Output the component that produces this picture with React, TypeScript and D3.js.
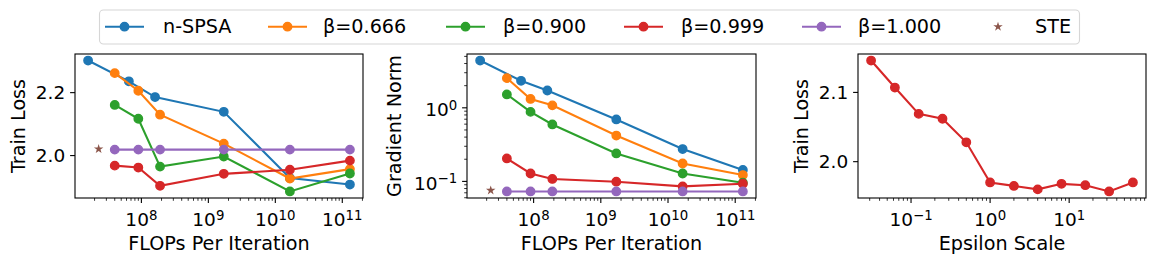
import React from 'react'
import * as d3 from 'd3'

// FLOPs per iteration
const flopsSpsa = [1.6e7, 6.5e7, 1.6e8, 1.7e9, 1.65e10, 1.3e11]
const flopsBeta = [4e7, 9e7, 1.9e8, 1.7e9, 1.65e10, 1.3e11]
const flopsSte = 2.3e7

// train loss
const lossSpsa = [2.302, 2.236, 2.186, 2.139, 1.929, 1.908]
const loss666 = [2.262, 2.206, 2.130, 2.038, 1.927, 1.957]
const loss900 = [2.161, 2.117, 1.965, 1.997, 1.886, 1.943]
const loss999 = [1.968, 1.962, 1.904, 1.942, 1.955, 1.984]
const loss1000 = [2.019, 2.019, 2.019, 2.019, 2.019, 2.019]
const lossSte = 2.021

// gradient norm
const gradSpsa = [4.39, 2.33, 1.72, 0.695, 0.275, 0.143]
const grad666 = [2.53, 1.32, 1.08, 0.42, 0.175, 0.122]
const grad900 = [1.52, 0.88, 0.594, 0.24, 0.128, 0.096]
const grad999 = [0.205, 0.128, 0.108, 0.099, 0.0855, 0.093]
const grad1000 = [0.073, 0.073, 0.073, 0.073, 0.073, 0.073]
const gradSte = 0.0755

// epsilon sweep
const epsScale = [0.03125, 0.0625, 0.125, 0.25, 0.5, 1, 2, 4, 8, 16, 32, 64]
const epsLoss = [2.146, 2.107, 2.069, 2.062, 2.028, 1.970, 1.965, 1.960, 1.968, 1.966, 1.957, 1.970]

const seriesNames = ['n-SPSA', 'β=0.666', 'β=0.900', 'β=0.999', 'β=1.000']
const colors = ['#1f77b4', '#ff7f0e', '#2ca02c', '#d62728', '#9467bd']
const steColor = '#8c564b'

const series = [
  {x: flopsSpsa, loss: lossSpsa, grad: gradSpsa},
  {x: flopsBeta, loss: loss666, grad: grad666},
  {x: flopsBeta, loss: loss900, grad: grad900},
  {x: flopsBeta, loss: loss999, grad: grad999},
  {x: flopsBeta, loss: loss1000, grad: grad1000},
]

const FONT = 'DejaVu Sans'
const TICK_FS = 18.5
const LABEL_FS = 19.2
const TOP = 54
const BOTTOM = 198

const padLog = (vals: number[]) => {
  const a = Math.log10(d3.min(vals)!)
  const b = Math.log10(d3.max(vals)!)
  const m = (b - a) * 0.05
  return [10 ** (a - m), 10 ** (b + m)]
}
const padLin = (vals: number[]) => {
  const a = d3.min(vals)!
  const b = d3.max(vals)!
  const m = (b - a) * 0.05
  return [a - m, b + m]
}

const logTicks = (domain: number[]) => {
  const lo = Math.floor(Math.log10(domain[0]))
  const hi = Math.ceil(Math.log10(domain[1]))
  const major: number[] = []
  const minor: number[] = []
  for (let e = lo; e <= hi; e++) {
    const v = 10 ** e
    if (v >= domain[0] && v <= domain[1]) major.push(e)
    for (let k = 2; k < 10; k++) {
      const mv = k * v
      if (mv >= domain[0] && mv <= domain[1]) minor.push(mv)
    }
  }
  return {major, minor}
}

const Pow = ({e}: {e: number}) => (
  <>
    <tspan>10</tspan>
    <tspan dy={-6.5} fontSize={TICK_FS * 0.72}>{e < 0 ? '−' + Math.abs(e) : e}</tspan>
  </>
)

const Frame = ({x0, x1}: {x0: number, x1: number}) => (
  <rect x={x0} y={TOP} width={x1 - x0} height={BOTTOM - TOP} fill="none" stroke="#000" strokeWidth={1.1}/>
)

const LogXAxis = ({scale}: {scale: any}) => {
  const {major, minor} = logTicks(scale.domain())
  return (
    <g>
      {minor.map((v, i) => (
        <line key={'m' + i} x1={scale(v)} x2={scale(v)} y1={BOTTOM} y2={BOTTOM + 2.8} stroke="#000" strokeWidth={0.8}/>
      ))}
      {major.map(e => (
        <g key={e}>
          <line x1={scale(10 ** e)} x2={scale(10 ** e)} y1={BOTTOM} y2={BOTTOM + 4.9} stroke="#000" strokeWidth={1.1}/>
          <text x={scale(10 ** e)} y={226} textAnchor="middle" fontSize={TICK_FS} fontFamily={FONT}>
            <Pow e={e}/>
          </text>
        </g>
      ))}
    </g>
  )
}

const LinYAxis = ({scale, x0, ticks}: {scale: any, x0: number, ticks: number[]}) => (
  <g>
    {ticks.map(t => (
      <g key={t}>
        <line x1={x0 - 4.9} x2={x0} y1={scale(t)} y2={scale(t)} stroke="#000" strokeWidth={1.1}/>
        <text x={x0 - 9.8} y={scale(t)} dy="0.36em" textAnchor="end" fontSize={TICK_FS} fontFamily={FONT}>
          {t.toFixed(1)}
        </text>
      </g>
    ))}
  </g>
)

const LogYAxis = ({scale, x0}: {scale: any, x0: number}) => {
  const {major, minor} = logTicks(scale.domain())
  return (
    <g>
      {minor.map((v, i) => (
        <line key={'m' + i} x1={x0 - 2.8} x2={x0} y1={scale(v)} y2={scale(v)} stroke="#000" strokeWidth={0.8}/>
      ))}
      {major.map(e => (
        <g key={e}>
          <line x1={x0 - 4.9} x2={x0} y1={scale(10 ** e)} y2={scale(10 ** e)} stroke="#000" strokeWidth={1.1}/>
          <text x={x0 - 9.8} y={scale(10 ** e) + 8.5} textAnchor="end" fontSize={TICK_FS} fontFamily={FONT}>
            <Pow e={e}/>
          </text>
        </g>
      ))}
    </g>
  )
}

const XLabel = ({x0, x1, text}: {x0: number, x1: number, text: string}) => (
  <text x={(x0 + x1) / 2} y={249.5} textAnchor="middle" fontSize={LABEL_FS} fontFamily={FONT}>{text}</text>
)
const YLabel = ({x, text}: {x: number, text: string}) => (
  <text transform={`translate(${x},${(TOP + BOTTOM) / 2}) rotate(-90)`} textAnchor="middle" fontSize={LABEL_FS} fontFamily={FONT}>{text}</text>
)

const starPath = d3.symbol().type(d3.symbolStar).size(28)()
const Star = ({x, y}: {x: number, y: number}) => (
  <path d={starPath!} transform={`translate(${x},${y})`} fill={steColor}/>
)

const LineMarks = ({xs, ys, xScale, yScale, color}: any) => {
  const line = d3.line<number>().x((_, i) => xScale(xs[i])).y(d => yScale(d))
  return (
    <g>
      <path d={line(ys)!} fill="none" stroke={color} strokeWidth={2.1}/>
      {ys.map((d: number, i: number) => (
        <circle key={i} cx={xScale(xs[i])} cy={yScale(d)} r={4.2} fill={color} stroke={color} strokeWidth={1.4}/>
      ))}
    </g>
  )
}

const Legend = () => {
  const lineX = [105, 268, 446, 624, 802]
  const textX = [163, 323, 503, 681, 858]
  const yMid = 26.7
  return (
    <g>
      <rect x={99.5} y={10} width={980} height={34} rx={4} fill="#fff" stroke="#d6d6d6" strokeWidth={1.1}/>
      {seriesNames.map((n, i) => (
        <g key={n}>
          <line x1={lineX[i]} x2={lineX[i] + 39} y1={yMid} y2={yMid} stroke={colors[i]} strokeWidth={2.1}/>
          <circle cx={lineX[i] + 19.5} cy={yMid} r={4.2} fill={colors[i]} stroke={colors[i]} strokeWidth={1.4}/>
          <text x={textX[i]} y={33.2} fontSize={LABEL_FS} fontFamily={FONT}>{n}</text>
        </g>
      ))}
      <Star x={998} y={yMid}/>
      <text x={1035} y={33.2} fontSize={LABEL_FS} fontFamily={FONT}>STE</text>
    </g>
  )
}

const App = () => {
  const p1 = [75, 363]
  const p2 = [467, 756]
  const p3 = [858, 1146]

  const allFlops = [...flopsSpsa, ...flopsBeta, flopsSte]
  const xDom = padLog(allFlops)
  const x1 = d3.scaleLog().domain(xDom).range(p1)
  const x2 = d3.scaleLog().domain(xDom).range(p2)

  const allLoss = [...lossSpsa, ...loss666, ...loss900, ...loss999, ...loss1000, lossSte]
  const y1 = d3.scaleLinear().domain(padLin(allLoss)).range([BOTTOM, TOP])

  const allGrad = [...gradSpsa, ...grad666, ...grad900, ...grad999, ...grad1000, gradSte]
  const y2 = d3.scaleLog().domain(padLog(allGrad)).range([BOTTOM, TOP])

  const x3 = d3.scaleLog().domain(padLog(epsScale)).range(p3)
  const y3 = d3.scaleLinear().domain(padLin(epsLoss)).range([BOTTOM, TOP])

  return (
    <svg width={1156} height={264} style={{position: 'absolute', left: 0, top: 0}}>
      <rect width={1156} height={264} fill="#fff"/>
      <Legend/>

      {/* panel 1 */}
      <Frame x0={p1[0]} x1={p1[1]}/>
      <LogXAxis scale={x1}/>
      <LinYAxis scale={y1} x0={p1[0]} ticks={[2.0, 2.2]}/>
      {series.map((s, i) => (
        <LineMarks key={i} xs={s.x} ys={s.loss} xScale={x1} yScale={y1} color={colors[i]}/>
      ))}
      <Star x={x1(flopsSte)} y={y1(lossSte)}/>
      <XLabel x0={p1[0]} x1={p1[1]} text="FLOPs Per Iteration"/>
      <YLabel x={25} text="Train Loss"/>

      {/* panel 2 */}
      <Frame x0={p2[0]} x1={p2[1]}/>
      <LogXAxis scale={x2}/>
      <LogYAxis scale={y2} x0={p2[0]}/>
      {series.map((s, i) => (
        <LineMarks key={i} xs={s.x} ys={s.grad} xScale={x2} yScale={y2} color={colors[i]}/>
      ))}
      <Star x={x2(flopsSte)} y={y2(gradSte)}/>
      <XLabel x0={p2[0]} x1={p2[1]} text="FLOPs Per Iteration"/>
      <YLabel x={401} text="Gradient Norm"/>

      {/* panel 3 */}
      <Frame x0={p3[0]} x1={p3[1]}/>
      <LogXAxis scale={x3}/>
      <LinYAxis scale={y3} x0={p3[0]} ticks={[2.0, 2.1]}/>
      <LineMarks xs={epsScale} ys={epsLoss} xScale={x3} yScale={y3} color={colors[3]}/>
      <XLabel x0={p3[0]} x1={p3[1]} text="Epsilon Scale"/>
      <YLabel x={808} text="Train Loss"/>
    </svg>
  )
}

export default App
